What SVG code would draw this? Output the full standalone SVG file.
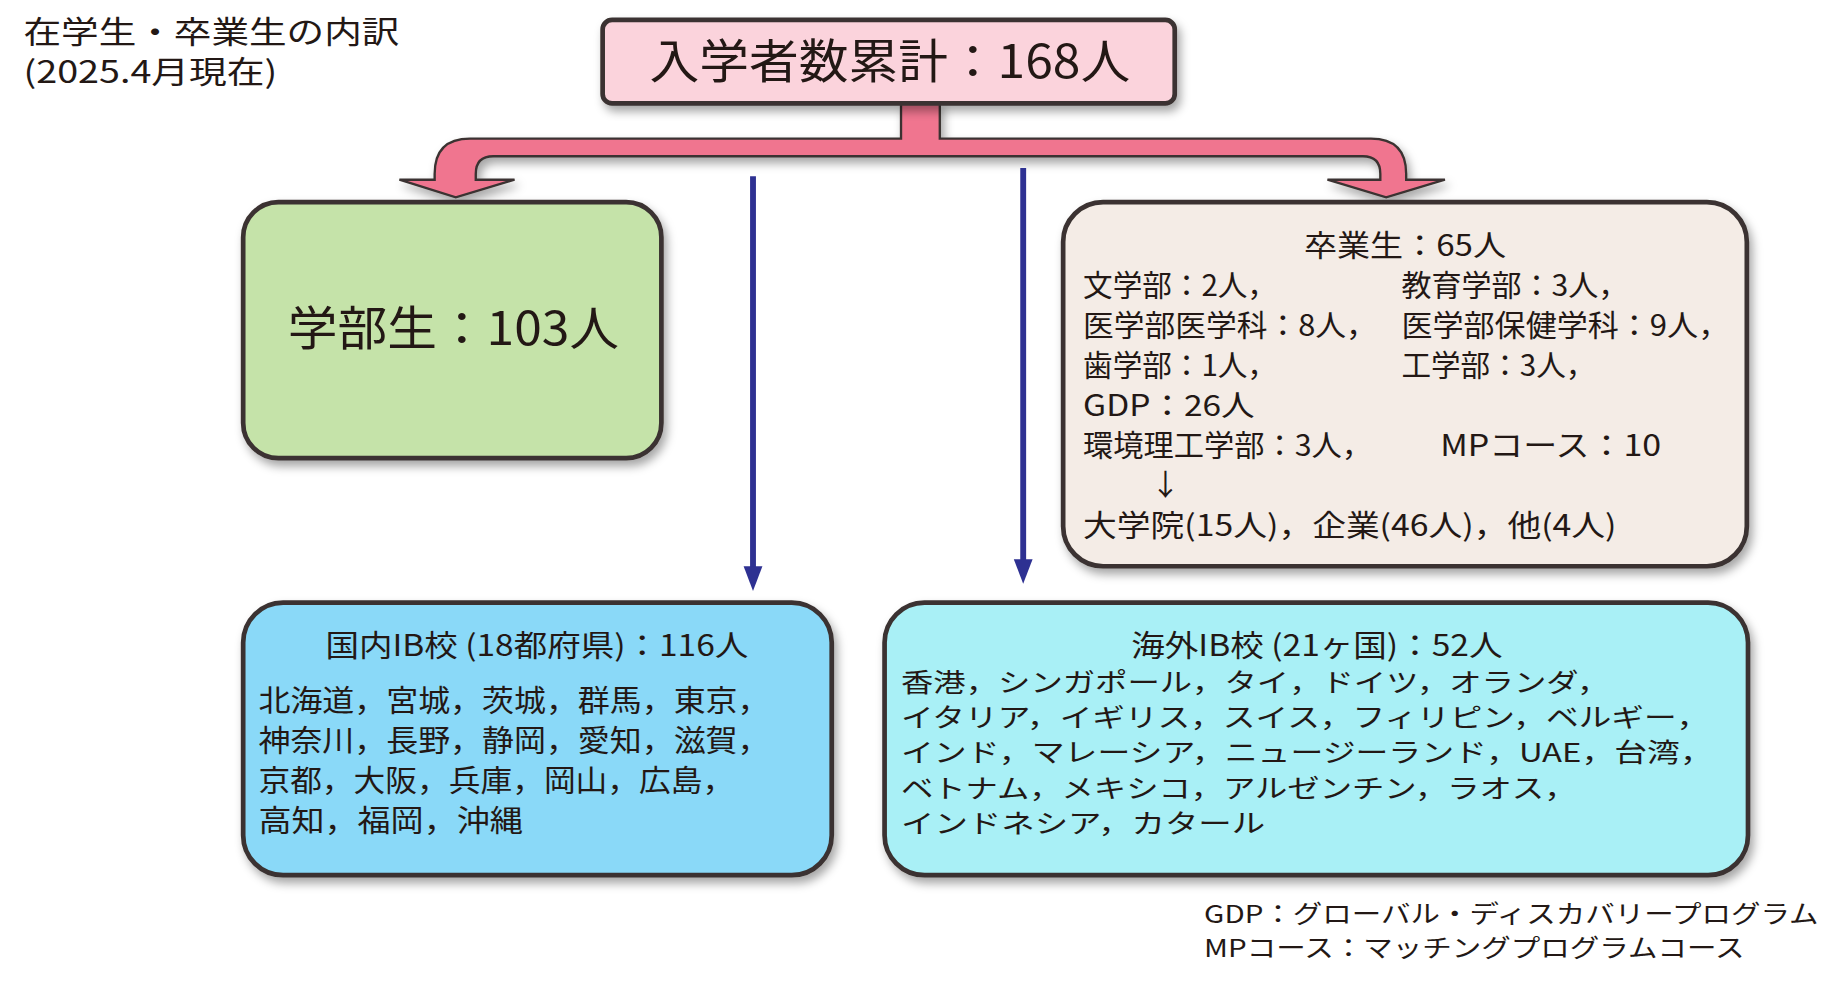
<svg xmlns="http://www.w3.org/2000/svg" width="1842" height="987" viewBox="0 0 1842 987">
<style>
text{font-family:"Noto Sans CJK JP","Noto Sans",sans-serif;fill:#231815}
.box{stroke:#3a3330;stroke-width:4}
.t25{font-size:25px}
.t24{font-size:22px}
.c{text-anchor:middle}
.blue{stroke:#2e3192;stroke-width:5;fill:none}
</style>
<defs>
<filter id="sh" x="-10%" y="-10%" width="125%" height="130%"><feDropShadow dx="3" dy="5" stdDeviation="4" flood-color="#000" flood-opacity="0.35"/></filter>
</defs>
<rect width="1842" height="987" fill="#fff"/>
<g transform="scale(1.17474)">
<g id="caption">
<text x="20" y="37" style="font-size:26px" textLength="320" lengthAdjust="spacingAndGlyphs">在学生・卒業生の内訳</text>
<text x="20" y="71" style="font-size:26px" textLength="216" lengthAdjust="spacingAndGlyphs">(2025.4月現在)</text>
</g>
<g id="connectors">
<path d="M767,88 V118 H400 Q370,118 370,148 V153 H340 L388,168 L438,153 H405 V148 Q405,133 420,133 H1160 Q1175,133 1175,148 V153 H1130 L1180,168 L1230,153 H1197 V148 Q1197,118 1167,118 H800 V88 Z" fill="#f0758f" stroke="#3a3330" stroke-width="2" filter="url(#sh)"/>
<line x1="641" y1="150" x2="641" y2="484" class="blue"/>
<path d="M633,482 L649,482 L641,503 z" fill="#2e3192"/>
<line x1="871" y1="143" x2="871" y2="478" class="blue"/>
<path d="M863,476 L879,476 L871,497 z" fill="#2e3192"/>
</g>
<g id="total">
<rect x="513" y="17" width="487" height="71" rx="8" fill="#fbd3dc" class="box" filter="url(#sh)"/>
<text x="553" y="66" style="font-size:40px" textLength="409" lengthAdjust="spacingAndGlyphs">入学者数累計：168人</text>
</g>
<g id="undergrad">
<rect x="207" y="172" width="356" height="218" rx="30" fill="#c5e3a9" class="box" filter="url(#sh)"/>
<text x="245" y="294" style="font-size:40px" textLength="282" lengthAdjust="spacingAndGlyphs">学部生：103人</text>
</g>
<g id="graduates">
<rect x="905" y="172" width="582" height="310" rx="34" fill="#f4ece6" class="box" filter="url(#sh)"/>
<text x="1110" y="218" class="t25" textLength="172" lengthAdjust="spacingAndGlyphs">卒業生：65人</text>
<text x="922" y="252" class="t25" textLength="165" lengthAdjust="spacingAndGlyphs">文学部：2人，</text>
<text x="1193" y="252" class="t25" textLength="193" lengthAdjust="spacingAndGlyphs">教育学部：3人，</text>
<text x="922" y="286" class="t25" textLength="250" lengthAdjust="spacingAndGlyphs">医学部医学科：8人，</text>
<text x="1193" y="286" class="t25" textLength="279" lengthAdjust="spacingAndGlyphs">医学部保健学科：9人，</text>
<text x="922" y="320" class="t25" textLength="165" lengthAdjust="spacingAndGlyphs">歯学部：1人，</text>
<text x="1193" y="320" class="t25" textLength="165" lengthAdjust="spacingAndGlyphs">工学部：3人，</text>
<text x="922" y="354" class="t25" textLength="146" lengthAdjust="spacingAndGlyphs">GDP：26人</text>
<text x="922" y="388" class="t25" textLength="246" lengthAdjust="spacingAndGlyphs">環境理工学部：3人，</text>
<text x="1226" y="388" class="t25" textLength="188" lengthAdjust="spacingAndGlyphs">MPコース：10</text>
<text x="992" y="421" class="c t25">↓</text>
<text x="922" y="456" class="t25" textLength="454" lengthAdjust="spacingAndGlyphs">大学院(15人)，企業(46人)，他(4人)</text>
</g>
<g id="domestic">
<rect x="207" y="513" width="501" height="232" rx="34" fill="#8ad9f8" class="box" filter="url(#sh)"/>
<text x="277" y="558" class="t25" textLength="360" lengthAdjust="spacingAndGlyphs">国内IB校 (18都府県)：116人</text>
<text x="220" y="605" class="t25" textLength="435" lengthAdjust="spacingAndGlyphs">北海道，宮城，茨城，群馬，東京，</text>
<text x="220" y="639" class="t25" textLength="435" lengthAdjust="spacingAndGlyphs">神奈川，長野，静岡，愛知，滋賀，</text>
<text x="220" y="673" class="t25" textLength="405" lengthAdjust="spacingAndGlyphs">京都，大阪，兵庫，岡山，広島，</text>
<text x="220" y="707" class="t25" textLength="225" lengthAdjust="spacingAndGlyphs">高知，福岡，沖縄</text>
</g>
<g id="overseas">
<rect x="753" y="513" width="735" height="232" rx="34" fill="#a9f0f6" class="box" filter="url(#sh)"/>
<text x="963" y="558" class="t25" textLength="316" lengthAdjust="spacingAndGlyphs">海外IB校 (21ヶ国)：52人</text>
<text x="767" y="589" class="t24" textLength="603" lengthAdjust="spacingAndGlyphs">香港，シンガポール，タイ，ドイツ，オランダ，</text>
<text x="767" y="619" class="t24" textLength="688" lengthAdjust="spacingAndGlyphs">イタリア，イギリス，スイス，フィリピン，ベルギー，</text>
<text x="767" y="649" class="t24" textLength="691" lengthAdjust="spacingAndGlyphs">インド，マレーシア，ニュージーランド，UAE，台湾，</text>
<text x="767" y="679" class="t24" textLength="575" lengthAdjust="spacingAndGlyphs">ベトナム，メキシコ，アルゼンチン，ラオス，</text>
<text x="767" y="709" class="t24" textLength="310" lengthAdjust="spacingAndGlyphs">インドネシア，カタール</text>
</g>
<g id="footnote">
<text x="1025" y="786" style="font-size:21px" textLength="523" lengthAdjust="spacingAndGlyphs">GDP：グローバル・ディスカバリープログラム</text>
<text x="1025" y="815" style="font-size:21px" textLength="460" lengthAdjust="spacingAndGlyphs">MPコース：マッチングプログラムコース</text>
</g>
</g>
</svg>
